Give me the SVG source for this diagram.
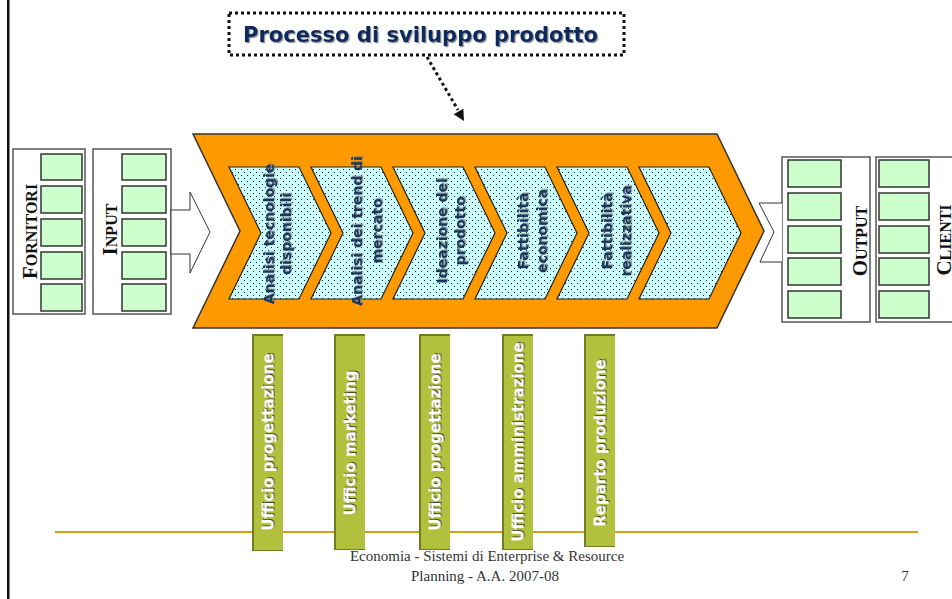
<svg xmlns="http://www.w3.org/2000/svg" width="952" height="599" viewBox="0 0 952 599">
  <defs>
    <pattern id="dots" width="6" height="6" patternUnits="userSpaceOnUse">
      <rect width="6" height="6" fill="#CCFFFF"/>
      <rect x="1" y="1" width="1" height="1" fill="#222"/>
      <rect x="4" y="4" width="1" height="1" fill="#222"/>
    </pattern>
    <filter id="shadow" x="-10%" y="-10%" width="120%" height="120%">
      <feDropShadow dx="1.2" dy="1.2" stdDeviation="0.6" flood-color="#777" flood-opacity="0.8"/>
    </filter>
    <filter id="shadowDark" x="-10%" y="-10%" width="120%" height="120%">
      <feDropShadow dx="1" dy="1" stdDeviation="0.4" flood-color="#333" flood-opacity="0.9"/>
    </filter>
  </defs>
  <style>
    .frame { fill: #fff; stroke: #555; stroke-width: 1.5; }
    .cell { fill: #CCFFCC; stroke: #333; stroke-width: 1.5; }
    .side { font-family: "Liberation Serif", serif; font-weight: bold; fill: #111; }
    .big { font-size: 21px; }
    .small { font-size: 16px; }
    .step { fill: url(#dots); stroke: #222; stroke-width: 1.2; }
    .steptxt { font-family: "DejaVu Sans", Verdana, sans-serif; font-weight: bold; font-size: 14px; fill: #17375E; text-anchor: middle; filter: url(#shadow); }
    .barDark { fill: #6F7D1F; }
    .barLight { fill: #B1C13E; }
    .bartxt { font-family: "DejaVu Sans", Verdana, sans-serif; font-weight: bold; font-size: 15px; fill: #fff; text-anchor: middle; filter: url(#shadowDark); }
    .foot { font-family: "Liberation Serif", serif; font-size: 15px; fill: #333; }
  </style>

  <!-- page border on the left -->
  <rect x="7" y="0" width="2.5" height="599" fill="#111"/>

  <!-- footer rule -->
  <line x1="55" y1="532" x2="918" y2="532" stroke="#D4A017" stroke-width="2"/>

  <!-- footer text -->
  <text class="foot" x="487" y="561" text-anchor="middle">Economia - Sistemi di Enterprise &amp; Resource</text>
  <text class="foot" x="485" y="581" text-anchor="middle">Planning - A.A. 2007-08</text>
  <text class="foot" x="905" y="581" text-anchor="middle">7</text>

  <!-- title -->
  <g id="title">
    <rect x="229" y="13" width="395" height="42" fill="none" stroke="#111" stroke-width="3" stroke-dasharray="3 3"/>
    <text x="243" y="42" font-family="DejaVu Sans, Verdana, sans-serif" font-weight="bold" font-size="22" fill="#0D2B5E" textLength="355" lengthAdjust="spacingAndGlyphs" filter="url(#shadow)">Processo di sviluppo prodotto</text>
  </g>

  <!-- suppliers -->
  <g id="fornitori">
    <rect class="frame" x="13" y="149" width="72" height="165"/>
    <rect class="cell" x="41" y="154" width="41" height="26"/>
    <rect class="cell" x="41" y="186" width="41" height="27"/>
    <rect class="cell" x="41" y="219" width="41" height="27"/>
    <rect class="cell" x="41" y="252" width="41" height="27"/>
    <rect class="cell" x="41" y="284" width="41" height="27"/>
    <text class="side" transform="translate(37,231.5) rotate(-90)" text-anchor="middle"><tspan class="big">F</tspan><tspan class="small">ORNITORI</tspan></text>
  </g>

  <!-- inputs -->
  <g id="input">
    <rect class="frame" x="93" y="149" width="78" height="165"/>
    <rect class="cell" x="122" y="154" width="44" height="26"/>
    <rect class="cell" x="122" y="186" width="44" height="27"/>
    <rect class="cell" x="122" y="219" width="44" height="27"/>
    <rect class="cell" x="122" y="252" width="44" height="27"/>
    <rect class="cell" x="122" y="284" width="44" height="27"/>
    <text class="side" transform="translate(117,229.5) rotate(-90)" text-anchor="middle"><tspan class="big">I</tspan><tspan class="small">NPUT</tspan></text>
  </g>

  <!-- outputs -->
  <g id="output">
    <rect class="frame" x="782" y="157" width="88" height="165"/>
    <rect class="cell" x="788" y="160" width="53" height="27"/>
    <rect class="cell" x="788" y="193" width="53" height="27"/>
    <rect class="cell" x="788" y="226" width="53" height="27"/>
    <rect class="cell" x="788" y="258" width="53" height="27"/>
    <rect class="cell" x="788" y="291" width="53" height="27"/>
    <text class="side" transform="translate(867,241) rotate(-90)" text-anchor="middle"><tspan class="big">O</tspan><tspan class="small">UTPUT</tspan></text>
  </g>

  <!-- customers -->
  <g id="clienti">
    <rect class="frame" x="876" y="157" width="90" height="165"/>
    <rect class="cell" x="879" y="160" width="50" height="27"/>
    <rect class="cell" x="879" y="193" width="50" height="27"/>
    <rect class="cell" x="879" y="226" width="50" height="27"/>
    <rect class="cell" x="879" y="258" width="50" height="27"/>
    <rect class="cell" x="879" y="291" width="50" height="27"/>
    <text class="side" transform="translate(951,240) rotate(-90)" text-anchor="middle"><tspan class="big">C</tspan><tspan class="small">LIENTI</tspan></text>
  </g>

  <!-- main process chevron with its steps -->
  <g id="processo">
    <polygon points="193,134 717,134 764,231 717,328 193,328 240,231" fill="#FF9900" stroke="#333" stroke-width="1.5"/>
  </g>
  <g id="step1">
    <polygon class="step" points="229,167 299,167 331,233 299,299 229,299 261,233"/>
    <text class="steptxt" transform="translate(274,234) rotate(-90)">Analisi tecnologie</text>
    <text class="steptxt" transform="translate(291,234) rotate(-90)">disponibili</text>
  </g>
  <g id="step2">
    <polygon class="step" points="311,167 381,167 413,233 381,299 311,299 343,233"/>
    <text class="steptxt" transform="translate(362,231) rotate(-90)">Analisi dei trend di</text>
    <text class="steptxt" transform="translate(382,231) rotate(-90)">mercato</text>
  </g>
  <g id="step3">
    <polygon class="step" points="393,167 463,167 495,233 463,299 393,299 425,233"/>
    <text class="steptxt" transform="translate(447,231) rotate(-90)">Ideazione del</text>
    <text class="steptxt" transform="translate(465,231) rotate(-90)">prodotto</text>
  </g>
  <g id="step4">
    <polygon class="step" points="475,167 545,167 577,233 545,299 475,299 507,233"/>
    <text class="steptxt" transform="translate(528,231) rotate(-90)">Fattibilità</text>
    <text class="steptxt" transform="translate(547,231) rotate(-90)">economica</text>
  </g>
  <g id="step5">
    <polygon class="step" points="557,167 627,167 659,233 627,299 557,299 589,233"/>
    <text class="steptxt" transform="translate(612,231) rotate(-90)">Fattibilità</text>
    <text class="steptxt" transform="translate(631,231) rotate(-90)">realizzativa</text>
  </g>
  <g id="step6">
    <polygon class="step" points="639,167 709,167 741,233 709,299 639,299 671,233"/>
  </g>

  <!-- departments -->
  <g id="dept1">
    <rect class="barDark" x="252" y="334" width="31" height="217"/>
    <rect class="barLight" x="254" y="336" width="29" height="214"/>
    <text class="bartxt" transform="translate(273.5,442) rotate(-90)">Ufficio progettazione</text>
  </g>
  <g id="dept2">
    <rect class="barDark" x="334" y="334" width="31" height="216"/>
    <rect class="barLight" x="336" y="336" width="29" height="213"/>
    <text class="bartxt" transform="translate(355.5,443) rotate(-90)">Ufficio marketing</text>
  </g>
  <g id="dept3">
    <rect class="barDark" x="419" y="334" width="31" height="216"/>
    <rect class="barLight" x="421" y="336" width="29" height="213"/>
    <text class="bartxt" transform="translate(440.5,442) rotate(-90)">Ufficio progettazione</text>
  </g>
  <g id="dept4">
    <rect class="barDark" x="502" y="334" width="31" height="216"/>
    <rect class="barLight" x="504" y="336" width="29" height="213"/>
    <text class="bartxt" transform="translate(523.5,442) rotate(-90)">Ufficio amministrazione</text>
  </g>
  <g id="dept5">
    <rect class="barDark" x="584" y="334" width="31" height="213"/>
    <rect class="barLight" x="586" y="336" width="29" height="210"/>
    <text class="bartxt" transform="translate(605.5,443) rotate(-90)">Reparto produzione</text>
  </g>

  <!-- connectors -->
  <g id="connectors">
    <!-- input arrow into the process -->
    <polygon points="171,210 190,210 190,192 210,232 190,273 190,254 171,254" fill="#fff" stroke="#333" stroke-width="1"/>
    <!-- notched arrow tail entering the output box -->
    <polyline points="782,203 759,203 774,232 760,262 782,262" fill="#fff" stroke="#333" stroke-width="1"/>
    <!-- dotted pointer from title to process -->
    <line x1="427" y1="57" x2="458" y2="110" stroke="#111" stroke-width="3" stroke-dasharray="3 3"/>
    <polygon points="464,121 453.7,114.2 463.3,108.7" fill="#111"/>
  </g>
</svg>
